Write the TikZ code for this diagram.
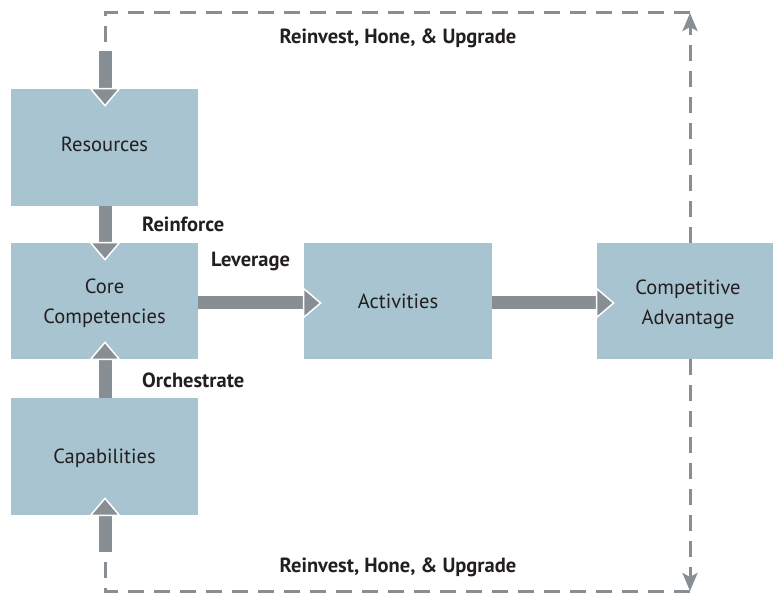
\documentclass[tikz,border=0pt]{standalone}
\usepackage{fontspec}
\setmainfont{PT Sans}
\usetikzlibrary{arrows.meta}
\definecolor{boxfill}{HTML}{A7C4D0}
\definecolor{arrowgray}{HTML}{878F95}
\definecolor{txt}{HTML}{231F20}
\tikzset{
  box/.style={rectangle, fill=boxfill, draw=none, inner sep=0pt},
  boxtext/.style={inner sep=0pt, align=center, text=txt, font=\fontsize{20.5}{30}\selectfont},
  lbl/.style={inner sep=0pt, text=txt, font=\fontsize{20.5}{24}\selectfont\bfseries},
  bigarrow/.style={draw=arrowgray, line width=13pt, shorten >=-18pt,
    -{Triangle[width=32pt, length=19pt, color=white, fill=arrowgray, line width=1.5pt]}},
  dashline/.style={draw=arrowgray, line width=3pt, dash pattern=on 16pt off 10pt},
  dasharrow/.style={dashline, -{Stealth[length=18pt, width=15pt, inset=4pt]}},
}
\begin{document}
\begin{tikzpicture}[x=1pt, y=-1pt]
\useasboundingbox (0,0) rectangle (773,593);
\node[box, minimum width=187pt, minimum height=117pt] (res) at (104.5,147.5) {};
\node[box, minimum width=187pt, minimum height=116pt] (core) at (104.5,301) {};
\node[box, minimum width=187pt, minimum height=117pt] (cap) at (104.5,456.5) {};
\node[box, minimum width=188pt, minimum height=116pt] (act) at (398,301) {};
\node[box, minimum width=182pt, minimum height=116pt] (ca) at (688,301) {};

\coordinate (tl) at (105,13);
\coordinate (tr) at (690,13);
\coordinate (bl) at (105,591);
\coordinate (br) at (690,591);
\coordinate (ts) at (105,51);
\coordinate (bs) at (105,552);
\coordinate (cat) at (690,243);
\coordinate (cab) at (690,359);

% dashed feedback loops
\draw[dasharrow] (cat) -- (tr);
\draw[dashline] (tr) -- (tl) -- (ts);
\draw[dasharrow] (cab) -- (br);
\draw[dashline] (br) -- (bl) -- (bs);

% thick arrows
\draw[bigarrow] (ts) -- (res.north -| ts);
\draw[bigarrow] (bs) -- (cap.south -| bs);
\draw[bigarrow] (res.south -| ts) -- (core.north -| ts);
\draw[bigarrow] (cap.north -| ts) -- (core.south -| ts);
\draw[bigarrow] (core.east) ++(0,2) coordinate (ce) (ce) -- (ce -| act.west);
\draw[bigarrow] (act.east) ++(0,2) coordinate (ae) (ae) -- (ae -| ca.west);

% box texts
\node[boxtext] (tres) at (104.5,144.5) {Resources};
\node[boxtext] (tcore) at (104.5,303) {Core\\Competencies};
\node[boxtext] (tcap) at (104.5,458.5) {Capabilities};
\node[boxtext] (tact) at (398,301) {Activities};
\node[boxtext] (tca) at (688,304) {Competitive\\Advantage};

% labels
\node[lbl] (l1) at (398,38) {Reinvest, Hone, \& Upgrade};
\node[lbl] (l2) at (398,567) {Reinvest, Hone, \& Upgrade};
\node[lbl, anchor=west] (l3) at (142,224) {Reinforce};
\node[lbl, anchor=west] (l4) at (211,261) {Leverage};
\node[lbl, anchor=west] (l5) at (142,380) {Orchestrate};
\end{tikzpicture}
\end{document}
